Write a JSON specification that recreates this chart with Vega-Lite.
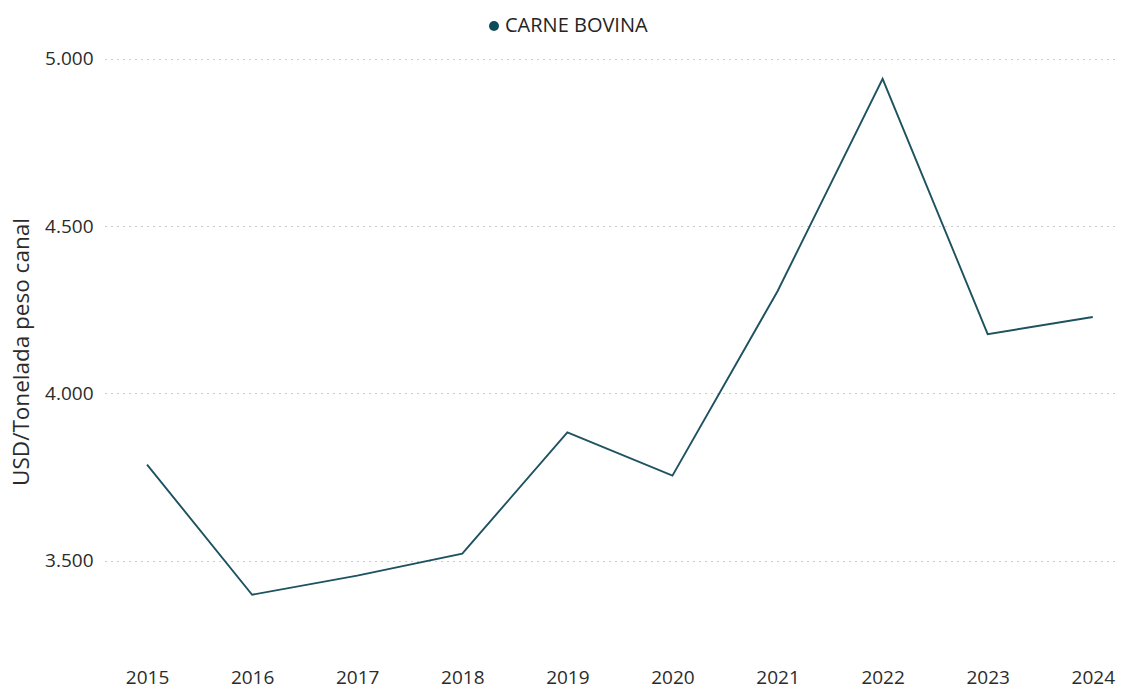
{
  "$schema": "https://vega.github.io/schema/vega-lite/v6.json",
  "width": 1013,
  "height": 619,
  "autosize": {"type": "none"},
  "padding": {"left": 105, "top": 42, "right": 8, "bottom": 30},
  "background": "white",
  "config": {
    "view": {"stroke": null},
    "font": "Open Sans"
  },
  "data": {
    "values": [
      {"ano": 2015, "valor": 3787, "serie": "CARNE BOVINA"},
      {"ano": 2016, "valor": 3398, "serie": "CARNE BOVINA"},
      {"ano": 2017, "valor": 3455, "serie": "CARNE BOVINA"},
      {"ano": 2018, "valor": 3521, "serie": "CARNE BOVINA"},
      {"ano": 2019, "valor": 3883, "serie": "CARNE BOVINA"},
      {"ano": 2020, "valor": 3754, "serie": "CARNE BOVINA"},
      {"ano": 2021, "valor": 4305, "serie": "CARNE BOVINA"},
      {"ano": 2022, "valor": 4940, "serie": "CARNE BOVINA"},
      {"ano": 2023, "valor": 4177, "serie": "CARNE BOVINA"},
      {"ano": 2024, "valor": 4228, "serie": "CARNE BOVINA"}
    ]
  },
  "mark": {"type": "line", "strokeWidth": 1.9, "interpolate": "linear"},
  "encoding": {
    "x": {
      "field": "ano",
      "type": "quantitative",
      "scale": {"domain": [2014.6, 2024.24], "nice": false, "zero": false},
      "axis": {
        "values": [2015, 2016, 2017, 2018, 2019, 2020, 2021, 2022, 2023, 2024],
        "format": "d",
        "title": null,
        "grid": false,
        "domain": false,
        "ticks": false,
        "labelFontSize": 19,
        "labelColor": "#2b2b2b",
        "labelPadding": 7,
        "labelFont": "Open Sans"
      }
    },
    "y": {
      "field": "valor",
      "type": "quantitative",
      "scale": {"domain": [3200, 5050], "nice": false, "zero": false},
      "axis": {
        "values": [3500, 4000, 4500, 5000],
        "labelExpr": "replace(format(datum.value, ','), ',', '.')",
        "title": "USD/Tonelada peso canal",
        "titleFontSize": 22.5,
        "titleFontWeight": "normal",
        "titleColor": "#2b2b2b",
        "titleFont": "Open Sans",
        "titlePadding": 11,
        "grid": true,
        "gridDash": [1, 5],
        "gridColor": "#999999",
        "gridWidth": 1,
        "domain": false,
        "ticks": false,
        "labelFontSize": 19,
        "labelColor": "#2b2b2b",
        "labelPadding": 12,
        "labelFont": "Open Sans"
      }
    },
    "color": {
      "field": "serie",
      "type": "nominal",
      "scale": {"range": ["#1d5261"]},
      "legend": {
        "title": null,
        "orient": "none",
        "legendX": 379,
        "legendY": -26,
        "symbolType": "circle",
        "symbolSize": 100,
        "symbolFillColor": "#0f4c5a",
        "symbolStrokeColor": "#0f4c5a",
        "symbolStrokeWidth": 0,
        "symbolOpacity": 1,
        "labelFontSize": 20,
        "labelColor": "#252423",
        "labelFont": "Open Sans",
        "labelOffset": 1
      }
    }
  }
}
